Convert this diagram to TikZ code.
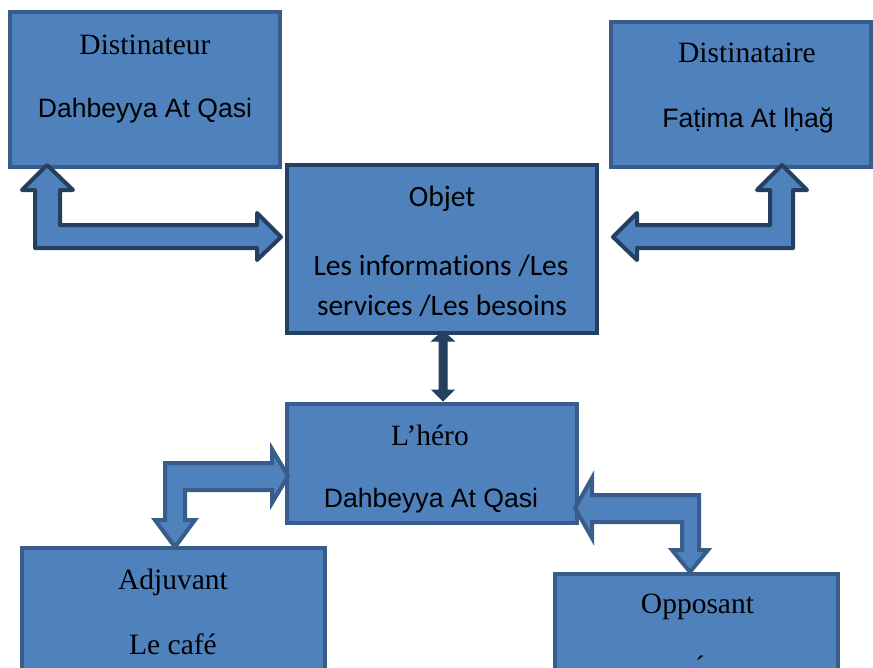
\documentclass[tikz,border=0pt]{standalone}
\usepackage{fontspec}
\setmainfont{Liberation Serif}
\setsansfont{Liberation Sans}
\newfontfamily\calfont[Ligatures=NoCommon]{Carlito}
\definecolor{boxfill}{HTML}{4F81BD}
\definecolor{boxline}{HTML}{385D8A}
\definecolor{darkline}{HTML}{243F60}
\begin{document}
\begin{tikzpicture}[x=1pt,y=-1pt,
  box/.style={draw=boxline,fill=boxfill,line width=4pt,inner sep=0pt,rectangle},
  darkbox/.style={box,draw=darkline},
  topshape/.style={draw=darkline,fill=boxfill,line width=4pt,line join=round},
  botshape/.style={draw=boxline,fill=boxfill,line width=4pt,line join=miter},
  vshape/.style={draw=darkline,fill=darkline,line width=1pt},
  serif/.style={anchor=base,inner sep=0pt,font=\rmfamily\fontsize{29.5}{35}\selectfont},
  sans/.style={anchor=base,inner sep=0pt,font=\sffamily\fontsize{26.6}{32}\selectfont},
  cal/.style={anchor=base,inner sep=0pt,font=\calfont\fontsize{29.5}{35}\selectfont}]
\useasboundingbox (0,0) rectangle (873,667);
\clip (0,0) rectangle (873,667);
% boxes
\node[box,minimum width=270pt,minimum height=155pt] (dst) at (145,89.5) {};
\node[box,minimum width=260pt,minimum height=145pt] (dsr) at (741,94.5) {};
\node[darkbox,minimum width=310pt,minimum height=168pt] (obj) at (442,249) {};
\node[box,minimum width=290pt,minimum height=119pt] (hero) at (432,463.5) {};
\node[box,minimum width=303pt,minimum height=160pt] (adj) at (173.5,628) {};
\node[box,minimum width=283pt,minimum height=160pt] (opp) at (696.5,654) {};
% block arrows
\draw[topshape] (47,165) -- (73,190) -- (60,190) -- (60,225) -- (257,225) -- (257,213)
  -- (281,237) -- (257,260) -- (257,248) -- (35,248) -- (35,190) -- (22,190) -- cycle;
\draw[topshape] (782,165) -- (807,190) -- (793,190) -- (793,248) -- (637,248) -- (637,260)
  -- (613,237) -- (637,213) -- (637,225) -- (770,225) -- (770,190) -- (757,190) -- cycle;
\draw[vshape] (443,331) -- (454,341) -- (447,341) -- (447,390) -- (454,390) -- (443,401)
  -- (432,390) -- (439,390) -- (439,341) -- (432,341) -- cycle;
\draw[botshape] (288,476) -- (272,503) -- (272,490) -- (185,490) -- (185,520) -- (195,520)
  -- (175,547) -- (155,520) -- (165,520) -- (165,463) -- (272,463) -- (272,449) -- cycle;
\draw[botshape] (575,508) -- (592,478) -- (592,495) -- (699,495) -- (699,550) -- (708,550)
  -- (690,572) -- (672,550) -- (682,550) -- (682,522) -- (592,522) -- (592,538) -- cycle;
% texts
\node[serif] (t1) at (145,54) {Distinateur};
\node[sans] (t2) at (145,117) {Dahbeyya At Qasi};
\node[serif] (t3) at (747,62) {Distinataire};
\node[sans] (t4) at (748,127) {Faṭima At lḥağ};
\node[cal] (t5) at (442,206) {Objet};
\node[cal] (t6) at (441,275) {Les informations /Les};
\node[cal] (t7) at (442,315) {services /Les besoins};
\node[serif] (t8) at (430,445) {L’héro};
\node[sans] (t9) at (431,507) {Dahbeyya At Qasi};
\node[serif] (t10) at (173,589) {Adjuvant};
\node[serif] (t11) at (173,654) {Le café};
\node[serif] (t12) at (697.5,613) {Opposant};
\node[serif] (t13) at (700,676) {´};
\end{tikzpicture}
\end{document}
